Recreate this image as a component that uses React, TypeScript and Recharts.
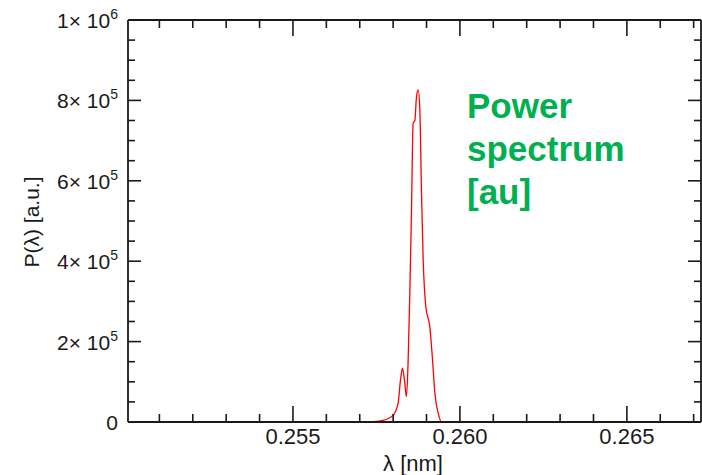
import React from 'react';
import { LineChart, Line, XAxis, YAxis } from 'recharts';

const FONT = '"Liberation Sans", Arial, sans-serif';
const INK = '#1a1a1a';

// spectrum samples (P in a.u.)
const lambdaNm = [
  0.25006, 0.257, 0.2574, 0.2577, 0.258, 0.25815, 0.25822, 0.25828, 0.25834, 0.2584,
  0.25845, 0.2585, 0.25855, 0.2586, 0.25865, 0.2587, 0.25875, 0.2588, 0.25885, 0.2589,
  0.25898, 0.2591, 0.25918, 0.25925, 0.25935, 0.25945, 0.26, 0.26722,
];
const power = [
  0, 0, 1000, 4000, 17000, 47000, 104000, 134000, 104000, 63000,
  154000, 320000, 527000, 744000, 750000, 809000, 826000, 776000, 570000, 403000,
  286000, 236000, 154000, 72000, 22000, 0, 0, 0,
];

const xDomain = [0.25006, 0.26722];
const yDomain = [0, 1000000];
const xTicks = [
  0.251, 0.252, 0.253, 0.254, 0.255, 0.256, 0.257, 0.258, 0.259, 0.26,
  0.261, 0.262, 0.263, 0.264, 0.265, 0.266, 0.267,
];
const xMajor = ['0.255', '0.260', '0.265'];
const yTicks = [
  0, 50000, 100000, 150000, 200000, 250000, 300000, 350000, 400000, 450000,
  500000, 550000, 600000, 650000, 700000, 750000, 800000, 850000, 900000, 950000, 1000000,
];

const data = lambdaNm.map((l, i) => ({ l, p: power[i] }));

const isMajorX = (v: number) => Math.round(v * 1000) % 5 === 0;
const isMajorY = (v: number) => Math.round(v / 50000) % 4 === 0;

const yLabel = (v: number) => {
  if (v === 0) return { mant: '0', exp: '' };
  const exp = Math.floor(Math.log10(v) + 1e-9);
  return { mant: String(Math.round(v / Math.pow(10, exp))), exp: String(exp) };
};

const BottomTick = ({ x, y, payload }: any) => {
  const v = payload.value;
  const major = isMajorX(v);
  const label = xMajor.find((t) => Math.abs(parseFloat(t) - v) < 1e-7);
  return (
    <g>
      <line x1={x} x2={x} y1={y} y2={y - (major ? 16 : 8)} stroke={INK} strokeWidth={1.6} />
      {label && (
        <text x={x} y={y + 22} textAnchor="middle" fontSize={22} fontFamily={FONT} fill={INK}>
          {label}
        </text>
      )}
    </g>
  );
};

const TopTick = ({ x, y, payload }: any) => (
  <line x1={x} x2={x} y1={y} y2={y + (isMajorX(payload.value) ? 16 : 8)} stroke={INK} strokeWidth={1.6} />
);

const LeftTick = ({ x, y, payload }: any) => {
  const v = payload.value;
  const major = isMajorY(v);
  const { mant, exp } = yLabel(v);
  return (
    <g>
      <line x1={x} x2={x + (major ? 13 : 7)} y1={y} y2={y} stroke={INK} strokeWidth={1.6} />
      {major && (
        <text x={x - 10} y={y + 8} textAnchor="end" fontSize={21} fontFamily={FONT} fill={INK}>
          {exp ? (
            <>
              {mant}× 10
              <tspan dy={-9} fontSize={14}>{exp}</tspan>
            </>
          ) : (
            mant
          )}
        </text>
      )}
    </g>
  );
};

const RightTick = ({ x, y, payload }: any) => (
  <line x1={x} x2={x - (isMajorY(payload.value) ? 13 : 7)} y1={y} y2={y} stroke={INK} strokeWidth={1.6} />
);

export default function App() {
  return (
    <div style={{ position: 'absolute', left: 0, top: 0, width: 702, height: 475, background: '#fff' }}>
      <LineChart width={702} height={475} data={data} margin={{ top: 19, right: 0, left: 0, bottom: 0 }}>
        <XAxis
          dataKey="l"
          type="number"
          domain={xDomain}
          allowDataOverflow
          ticks={xTicks}
          interval={0}
          height={53}
          tickSize={0}
          tickMargin={0}
          tickLine={false}
          tick={<BottomTick />}
          axisLine={{ stroke: INK, strokeWidth: 1.8 }}
          label={{
            content: () => (
              <text x={413} y={471} textAnchor="middle" fontSize={22} fontFamily={FONT} fill={INK}>
                λ [nm]
              </text>
            ),
          }}
        />
        <XAxis
          xAxisId="top"
          orientation="top"
          dataKey="l"
          type="number"
          domain={xDomain}
          allowDataOverflow
          ticks={xTicks}
          interval={0}
          height={1}
          tickSize={0}
          tickMargin={0}
          tickLine={false}
          tick={<TopTick />}
          axisLine={{ stroke: INK, strokeWidth: 1.8 }}
        />
        <YAxis
          type="number"
          domain={yDomain}
          allowDataOverflow
          ticks={yTicks}
          interval={0}
          width={128}
          tickSize={0}
          tickMargin={0}
          tickLine={false}
          tick={<LeftTick />}
          axisLine={{ stroke: INK, strokeWidth: 1.8 }}
          label={{
            content: () => (
              <text
                x={31}
                y={222}
                transform="rotate(-90, 31, 222)"
                textAnchor="middle"
                dominantBaseline="central"
                fontSize={21}
                fontFamily={FONT}
                fill={INK}
              >
                P(λ) [a.u.]
              </text>
            ),
          }}
        />
        <YAxis
          yAxisId="right"
          orientation="right"
          type="number"
          domain={yDomain}
          allowDataOverflow
          ticks={yTicks}
          interval={0}
          width={1}
          tickSize={0}
          tickMargin={0}
          tickLine={false}
          tick={<RightTick />}
          axisLine={{ stroke: INK, strokeWidth: 1.8 }}
        />
        {/* invisible copy bound to the frame axes so they get drawn */}
        <Line
          xAxisId="top"
          yAxisId="right"
          dataKey="p"
          stroke="none"
          dot={false}
          activeDot={false}
          isAnimationActive={false}
        />
        <Line
          dataKey="p"
          type="monotone"
          stroke="#ff0000"
          strokeWidth={1.3}
          dot={false}
          isAnimationActive={false}
        />
      </LineChart>
      <div
        style={{
          position: 'absolute',
          left: 467,
          top: 84,
          fontFamily: FONT,
          fontWeight: 'bold',
          fontSize: 35,
          lineHeight: '43px',
          color: '#00b050',
        }}
      >
        Power
        <br />
        spectrum
        <br />
        [au]
      </div>
    </div>
  );
}
